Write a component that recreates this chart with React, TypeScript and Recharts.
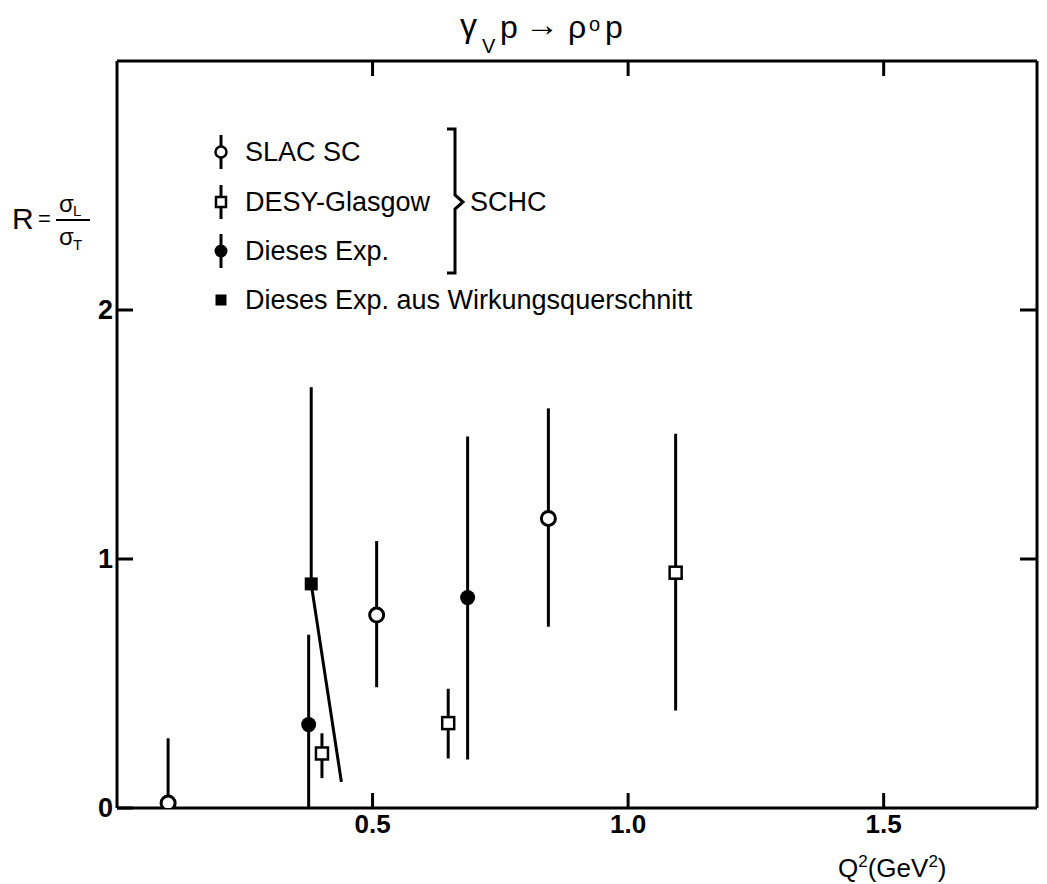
import { ScatterChart, Scatter, XAxis, YAxis, ErrorBar, Legend } from "recharts";

const FONT = '"Liberation Sans", Arial, sans-serif';

// axis ticks
const X_TICKS = [0.5, 1.0, 1.5];
const Y_TICKS = [0, 1, 2];
const Y_RIGHT_TICKS = [1, 2];

// SLAC SC (open circles)
const slacQ2 = [0.1, 0.508, 0.844];
const slacR = [0.02, 0.775, 1.163];
const slacLo = [0, 0.485, 0.728];
const slacHi = [0.28, 1.072, 1.605];

// DESY-Glasgow (open squares)
const desyQ2 = [0.401, 0.648, 1.093];
const desyR = [0.219, 0.341, 0.945];
const desyLo = [0.12, 0.199, 0.392];
const desyHi = [0.3, 0.479, 1.503];

// Dieses Exp. (filled circles)
const expQ2 = [0.375, 0.686];
const expR = [0.335, 0.845];
const expLo = [0, 0.195];
const expHi = [0.696, 1.492];

// Dieses Exp. aus Wirkungsquerschnitt (filled square) + slanted lower bar
const wqQ2 = [0.38];
const wqR = [0.9];
const wqLo = [0.9];
const wqHi = [1.69];
const slantQ2 = [0.38, 0.439];
const slantR = [0.9, 0.105];

const build = (q: number[], r: number[], lo: number[], hi: number[]) =>
  q.map((x, i) => ({ x, y: r[i], err: [r[i] - lo[i], hi[i] - r[i]] }));

const slac = build(slacQ2, slacR, slacLo, slacHi);
const desy = build(desyQ2, desyR, desyLo, desyHi);
const exp = build(expQ2, expR, expLo, expHi);
const wq = build(wqQ2, wqR, wqLo, wqHi);
const slant = slantQ2.map((x, i) => ({ x, y: slantR[i] }));

const LEGEND = [
  { name: "SLAC SC", kind: "openCircle" },
  { name: "DESY-Glasgow", kind: "openSquare" },
  { name: "Dieses Exp.", kind: "filledCircle" },
  { name: "Dieses Exp. aus Wirkungsquerschnitt", kind: "filledSquare" },
];

const MARGIN = 10;

const LeftTick = (p: any) => {
  const ax = p.x + MARGIN;
  return (
    <g>
      <line x1={ax} x2={ax + 16} y1={p.y} y2={p.y} stroke="#000" strokeWidth={3} />
      <text x={ax - 4} y={p.y + 9} textAnchor="end" fontSize={27} fontWeight="bold" fontFamily={FONT}>
        {p.payload.value}
      </text>
    </g>
  );
};

const RightTick = (p: any) => {
  const ax = p.x - MARGIN;
  return <line x1={ax} x2={ax - 17} y1={p.y} y2={p.y} stroke="#000" strokeWidth={3} />;
};

const BottomTick = (p: any) => {
  const ay = p.y - MARGIN;
  return (
    <g>
      <line x1={p.x} x2={p.x} y1={ay} y2={ay - 15} stroke="#000" strokeWidth={3} />
      <text x={p.x} y={ay + 25} textAnchor="middle" fontSize={26} fontWeight="bold" fontFamily={FONT}>
        {Number(p.payload.value).toFixed(1)}
      </text>
    </g>
  );
};

const TopTick = (p: any) => {
  const ay = p.y + MARGIN;
  return <line x1={p.x} x2={p.x} y1={ay} y2={ay + 15} stroke="#000" strokeWidth={3} />;
};

const OpenCircle = (p: any) => <circle cx={p.cx} cy={p.cy} r={7} fill="#fff" stroke="#000" strokeWidth={3} />;
const OpenSquare = (p: any) => (
  <rect x={p.cx - 6} y={p.cy - 6} width={12} height={12} fill="#fff" stroke="#000" strokeWidth={2.5} />
);
const FilledCircle = (p: any) => <circle cx={p.cx} cy={p.cy} r={7.5} fill="#000" />;
const FilledSquare = (p: any) => <rect x={p.cx - 6.5} y={p.cy - 6.5} width={13} height={13} fill="#000" />;
const NoShape = () => <g />;

function LegendMarker({ kind, y }: { kind: string; y: number }) {
  const cx = 31;
  const bar = kind !== "filledSquare" ? (
    <line x1={cx} x2={cx} y1={y - 17} y2={y + 17} stroke="#000" strokeWidth={3} />
  ) : null;
  let m = null;
  if (kind === "openCircle") m = <circle cx={cx} cy={y} r={5.5} fill="#fff" stroke="#000" strokeWidth={2.5} />;
  if (kind === "openSquare") m = <rect x={cx - 5} y={y - 5} width={10} height={10} fill="#fff" stroke="#000" strokeWidth={2.5} />;
  if (kind === "filledCircle") m = <circle cx={cx} cy={y} r={6.5} fill="#000" />;
  if (kind === "filledSquare") m = <rect x={cx - 5.5} y={y - 5.5} width={11} height={11} fill="#000" />;
  return (
    <g>
      {bar}
      {m}
    </g>
  );
}

function LegendContent() {
  const rows = [27, 77, 126, 175];
  return (
    <svg width={560} height={200}>
      {LEGEND.map((l, i) => (
        <g key={l.name}>
          <LegendMarker kind={l.kind} y={rows[i]} />
          <text x={55} y={rows[i] + 9} fontSize={27} fontFamily={FONT}>
            {l.name}
          </text>
        </g>
      ))}
      <path d="M257 4 H265 V70 L273 77 L265 84 V148 H257" fill="none" stroke="#000" strokeWidth={3} />
      <text x={280} y={86} fontSize={27} fontFamily={FONT}>
        SCHC
      </text>
    </svg>
  );
}

export default function App() {
  return (
    <div style={{ position: "absolute", left: 0, top: 0, width: 1047, height: 884, background: "#fff" }}>
      <ScatterChart width={1047} height={884} margin={{ top: 60, right: 9, bottom: 75, left: 116 }}>
        <XAxis
          type="number"
          dataKey="x"
          domain={[0, 1.8]}
          ticks={X_TICKS}
          interval={0}
          height={1}
          tickSize={0}
          tickMargin={MARGIN}
          tickLine={false}
          axisLine={{ stroke: "#000", strokeWidth: 3 }}
          tick={BottomTick}
          allowDataOverflow
        />
        <XAxis
          xAxisId="t"
          orientation="top"
          type="number"
          dataKey="x"
          domain={[0, 1.8]}
          ticks={X_TICKS}
          interval={0}
          height={1}
          tickSize={0}
          tickMargin={MARGIN}
          tickLine={false}
          axisLine={{ stroke: "#000", strokeWidth: 3 }}
          tick={TopTick}
          allowDataOverflow
        />
        <YAxis
          type="number"
          dataKey="y"
          domain={[0, 3]}
          ticks={Y_TICKS}
          interval={0}
          width={1}
          tickSize={0}
          tickMargin={MARGIN}
          tickLine={false}
          axisLine={{ stroke: "#000", strokeWidth: 3 }}
          tick={LeftTick}
          allowDataOverflow
        />
        <YAxis
          yAxisId="r"
          orientation="right"
          type="number"
          dataKey="y"
          domain={[0, 3]}
          ticks={Y_RIGHT_TICKS}
          interval={0}
          width={1}
          tickSize={0}
          tickMargin={MARGIN}
          tickLine={false}
          axisLine={{ stroke: "#000", strokeWidth: 3 }}
          tick={RightTick}
          allowDataOverflow
        />
        <Scatter
          name="slant"
          data={slant}
          line={{ stroke: "#000", strokeWidth: 3 }}
          shape={NoShape}
          legendType="none"
          isAnimationActive={false}
        />
        <Scatter name="SLAC SC" data={slac} shape={OpenCircle} isAnimationActive={false}>
          <ErrorBar dataKey="err" direction="y" width={0} stroke="#000" strokeWidth={3} isAnimationActive={false} />
        </Scatter>
        <Scatter name="DESY-Glasgow" data={desy} shape={OpenSquare} isAnimationActive={false}>
          <ErrorBar dataKey="err" direction="y" width={0} stroke="#000" strokeWidth={3} isAnimationActive={false} />
        </Scatter>
        <Scatter name="Dieses Exp." data={exp} shape={FilledCircle} isAnimationActive={false}>
          <ErrorBar dataKey="err" direction="y" width={0} stroke="#000" strokeWidth={3} isAnimationActive={false} />
        </Scatter>
        <Scatter name="Dieses Exp. aus Wirkungsquerschnitt" data={wq} shape={FilledSquare} isAnimationActive={false}>
          <ErrorBar dataKey="err" direction="y" width={0} stroke="#000" strokeWidth={3} isAnimationActive={false} />
        </Scatter>
        <Legend
          layout="horizontal"
          verticalAlign="middle"
          align="center"
          content={LegendContent}
          wrapperStyle={{ left: 190, top: 125, width: 560, height: 200 }}
        />
      </ScatterChart>
      <svg
        width={1047}
        height={884}
        style={{ position: "absolute", left: 0, top: 0, pointerEvents: "none" }}
        fontFamily={FONT}
      >
        {/* title */}
        <text x={460} y={37} fontSize={34}>γ</text>
        <text x={482} y={53} fontSize={20}>V</text>
        <text x={500} y={38} fontSize={32}>p</text>
        <text x={525} y={36} fontSize={34} fontWeight="bold">→</text>
        <text x={568} y={38} fontSize={32}>ρ</text>
        <text x={589} y={31} fontSize={20}>o</text>
        <text x={605} y={38} fontSize={32}>p</text>
        {/* y label */}
        <text x={12} y={229} fontSize={30}>R</text>
        <text x={38} y={226} fontSize={22}>=</text>
        <text x={59} y={212} fontSize={24}>σ</text>
        <text x={73} y={216} fontSize={15}>L</text>
        <line x1={56} x2={90} y1={220} y2={220} stroke="#000" strokeWidth={2} />
        <text x={59} y={245} fontSize={24}>σ</text>
        <text x={73} y={250} fontSize={15}>T</text>
        {/* x label */}
        <text x={838} y={877} fontSize={26}>
          Q<tspan fontSize={17} dy={-10}>2</tspan>
          <tspan dy={10}>(GeV</tspan>
          <tspan fontSize={17} dy={-10}>2</tspan>
          <tspan dy={10}>)</tspan>
        </text>
      </svg>
    </div>
  );
}
